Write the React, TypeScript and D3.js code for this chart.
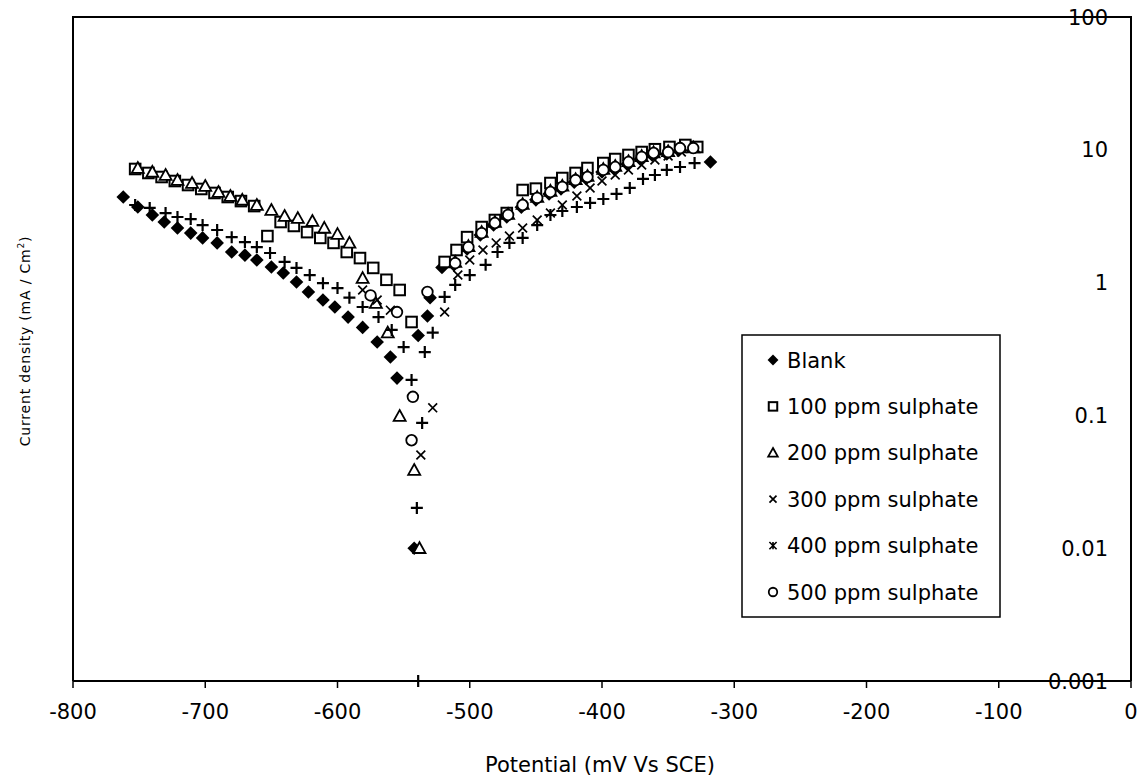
import React from 'react';
import * as d3 from 'd3';

const W = 1138;
const H = 780;

const xTicks = [-800, -700, -600, -500, -400, -300, -200, -100, 0];
const yTicks = [0.001, 0.01, 0.1, 1, 10, 100];
const yTickLabels = ['0.001', '0.01', '0.1', '1', '10', '100'];
const xTitle = 'Potential (mV Vs SCE)';
const seriesNames = ['Blank', '100 ppm sulphate', '200 ppm sulphate', '300 ppm sulphate', '400 ppm sulphate', '500 ppm sulphate'];
const markerKinds = ['diamond', 'square', 'triangle', 'x', 'star', 'circle'];

// [potential mV, current density mA/cm2]
const blank: [number, number][] = [
  [-762, 4.41], [-751, 3.71], [-740, 3.23], [-731, 2.86], [-721, 2.58], [-711, 2.36], [-702, 2.17],
  [-691, 1.99], [-680, 1.7], [-670, 1.61], [-661, 1.48], [-650, 1.31], [-641, 1.18], [-631, 1.01],
  [-622, 0.85], [-611, 0.74], [-602, 0.655], [-592, 0.55], [-581, 0.46], [-570, 0.357], [-560, 0.275],
  [-555, 0.191], [-542, 0.01],
  [-539, 0.4], [-532, 0.56], [-530, 0.77], [-521, 1.3], [-512, 1.36], [-502, 1.79], [-492, 2.28],
  [-482, 2.72], [-472, 3.12], [-461, 3.7], [-450, 4.2], [-440, 4.65], [-431, 5.08], [-421, 5.7],
  [-412, 6.05], [-400, 6.8], [-391, 7.2], [-381, 7.8], [-371, 8.5], [-362, 9.1], [-351, 9.3],
  [-342, 9.9], [-318, 8.09],
];

const ppm100: [number, number][] = [
  [-753, 7.17], [-743, 6.69], [-733, 6.24], [-723, 5.82], [-713, 5.43], [-703, 5.07], [-693, 4.73],
  [-683, 4.41], [-673, 4.11], [-663, 3.77], [-653, 2.24], [-643, 2.86], [-633, 2.67], [-623, 2.4],
  [-613, 2.17], [-603, 1.99], [-593, 1.7], [-583, 1.53], [-573, 1.29], [-563, 1.05], [-553, 0.88],
  [-544, 0.505],
  [-519, 1.43], [-510, 1.76], [-502, 2.2], [-491, 2.62], [-481, 2.96], [-472, 3.34], [-460, 4.98],
  [-450, 5.1], [-439, 5.62], [-430, 6.13], [-420, 6.69], [-411, 7.29], [-399, 7.95], [-390, 8.52],
  [-380, 9.14], [-370, 9.62], [-360, 10.1], [-349, 10.5], [-337, 10.87], [-328, 10.5],
];

const ppm200: [number, number][] = [
  [-751, 7.29], [-740, 6.81], [-730, 6.46], [-721, 5.92], [-710, 5.62], [-700, 5.34], [-690, 4.81],
  [-681, 4.49], [-672, 4.19], [-661, 3.84], [-650, 3.52], [-640, 3.17], [-630, 3.06], [-619, 2.91],
  [-610, 2.58], [-600, 2.32], [-591, 1.99], [-581, 1.08], [-571, 0.7], [-562, 0.42], [-553, 0.099],
  [-542, 0.0388], [-538, 0.01],
  [-511, 1.43], [-501, 1.88], [-491, 2.4], [-481, 2.86], [-471, 3.28], [-460, 3.9], [-449, 4.4],
  [-439, 4.9], [-430, 5.35], [-420, 6.0], [-411, 6.35], [-399, 7.15], [-390, 7.55], [-380, 8.2],
  [-370, 8.95], [-361, 9.55], [-350, 9.75], [-341, 10.4], [-331, 10.4],
];

const ppm300: [number, number][] = [
  [-581, 0.88], [-570, 0.74], [-560, 0.62], [-537, 0.0503], [-528, 0.114],
  [-519, 0.6], [-509, 1.14], [-500, 1.48], [-490, 1.76], [-480, 1.99], [-470, 2.24], [-460, 2.58],
  [-449, 2.96], [-439, 3.34], [-430, 3.84], [-419, 4.49], [-409, 5.16], [-400, 5.82], [-390, 6.46],
  [-380, 7.05], [-370, 7.68], [-360, 8.38], [-350, 8.98], [-340, 9.62],
];

const ppm400: [number, number][] = [
  [-753, 3.84], [-742, 3.65], [-730, 3.34], [-721, 3.12], [-711, 3.01], [-702, 2.71], [-691, 2.49],
  [-680, 2.2], [-670, 2.02], [-661, 1.85], [-651, 1.67], [-640, 1.43], [-631, 1.29], [-621, 1.14],
  [-611, 0.99], [-600, 0.91], [-591, 0.77], [-581, 0.655], [-569, 0.55], [-559, 0.44], [-550, 0.327],
  [-544, 0.185], [-536, 0.0877], [-540, 0.0201], [-539, 0.001],
  [-534, 0.3], [-528, 0.42], [-519, 0.78], [-511, 0.96], [-500, 1.14], [-488, 1.36], [-479, 1.7],
  [-470, 1.99], [-460, 2.17], [-449, 2.71], [-439, 3.23], [-430, 3.46], [-419, 3.71], [-409, 3.98],
  [-399, 4.26], [-389, 4.65], [-379, 5.16], [-369, 6.03], [-360, 6.46], [-351, 7.05], [-341, 7.42],
  [-330, 7.95],
];

const ppm500: [number, number][] = [
  [-575, 0.8], [-555, 0.6], [-543, 0.138], [-544, 0.065],
  [-532, 0.85], [-511, 1.4], [-501, 1.85], [-491, 2.36], [-481, 2.81], [-471, 3.23], [-460, 3.84],
  [-449, 4.34], [-439, 4.81], [-430, 5.25], [-420, 5.92], [-411, 6.24], [-399, 7.05], [-390, 7.42],
  [-380, 8.09], [-370, 8.83], [-361, 9.46], [-350, 9.62], [-341, 10.31], [-331, 10.31],
];

const allSeries = [blank, ppm100, ppm200, ppm300, ppm400, ppm500];

function Marker({ kind, cx, cy, s = 1 }: { kind: string; cx: number; cy: number; s?: number }) {
  const k = s;
  switch (kind) {
    case 'diamond': {
      const r = 6.8 * k;
      return <polygon points={`${cx},${cy - r} ${cx + r},${cy} ${cx},${cy + r} ${cx - r},${cy}`} fill="#000" />;
    }
    case 'square': {
      const h = 5.3 * k;
      return <rect x={cx - h} y={cy - h} width={2 * h} height={2 * h} fill="#fff" stroke="#000" strokeWidth={2} />;
    }
    case 'triangle': {
      const h = 6 * k;
      return (
        <polygon
          points={`${cx},${cy - h} ${cx + h},${cy + h * 0.8} ${cx - h},${cy + h * 0.8}`}
          fill="#fff"
          stroke="#000"
          strokeWidth={1.8}
        />
      );
    }
    case 'x': {
      const h = 4.4 * k;
      return (
        <path d={`M${cx - h},${cy - h}L${cx + h},${cy + h}M${cx - h},${cy + h}L${cx + h},${cy - h}`} stroke="#000" strokeWidth={1.7} />
      );
    }
    case 'star': {
      const h = 6 * k;
      return <path d={`M${cx - h},${cy}L${cx + h},${cy}M${cx},${cy - h}L${cx},${cy + h}`} stroke="#000" strokeWidth={2.2} />;
    }
    case 'starLegend': {
      const h = 4.5 * k;
      return (
        <path
          d={`M${cx - h},${cy - h}L${cx + h},${cy + h}M${cx - h},${cy + h}L${cx + h},${cy - h}M${cx},${cy - h}L${cx},${cy + h}`}
          stroke="#000"
          strokeWidth={1.6}
        />
      );
    }
    case 'circle':
    default:
      return <circle cx={cx} cy={cy} r={5.3 * k} fill="#fff" stroke="#000" strokeWidth={1.8} />;
  }
}

export default function App() {
  const x = d3.scaleLinear().domain([-800, 0]).range([73, 1131]);
  const y = d3.scaleLog().domain([0.001, 100]).range([681, 17]);
  const [x0, x1] = x.range();
  const [yb, yt] = y.range();

  const legend = { x: 742, y: 335, w: 258, h: 282 };
  const rowY = (i: number) => 360 + i * 46.4;

  return (
    <svg
      width={W}
      height={H}
      style={{ position: 'absolute', left: 0, top: 0, background: '#fff' }}
      fontFamily="'DejaVu Sans', sans-serif"
    >
      <rect x={0} y={0} width={W} height={H} fill="#fff" />
      {/* plot frame */}
      <path d={`M${x0},${yb}L${x0},${yt}L${x1},${yt}L${x1},${yb}`} fill="none" stroke="#000" strokeWidth={2} />
      {/* x axis */}
      <line x1={x0} x2={x1} y1={yb} y2={yb} stroke="#000" strokeWidth={2} />
      {xTicks.map((t) => (
        <g key={t}>
          <line x1={x(t)} x2={x(t)} y1={yb} y2={yb + 7} stroke="#000" strokeWidth={1.5} />
          <text x={x(t)} y={719} textAnchor="middle" fontSize={21} fill="#000">
            {t}
          </text>
        </g>
      ))}
      {/* y labels (axis crosses at 0 on the right) */}
      {yTicks.map((t, i) => (
        <text key={t} x={1108} y={y(t)} dy="0.36em" textAnchor="end" fontSize={21} fill="#000">
          {yTickLabels[i]}
        </text>
      ))}
      {/* data */}
      {allSeries.map((ser, si) => (
        <g key={si}>
          {ser.map(([v, c], pi) => (
            <Marker key={pi} kind={markerKinds[si]} cx={x(v)} cy={y(c)} />
          ))}
        </g>
      ))}
      {/* legend */}
      <rect x={legend.x} y={legend.y} width={legend.w} height={legend.h} fill="#fff" stroke="#000" strokeWidth={1.5} />
      {seriesNames.map((n, i) => (
        <g key={n}>
          <Marker kind={markerKinds[i] === 'star' ? 'starLegend' : markerKinds[i]} cx={773} cy={rowY(i)} s={0.8} />
          <text x={787} y={rowY(i)} dy="0.36em" fontSize={21} fill="#000">
            {n}
          </text>
        </g>
      ))}
      {/* axis titles */}
      <text x={600} y={772} textAnchor="middle" fontSize={21} fill="#000">
        {xTitle}
      </text>
      <text
        transform={`translate(30,341) rotate(-90)`}
        textAnchor="middle"
        fontSize={14}
        letterSpacing={0.8}
        fill="#000"
      >
        Current density (mA / Cm<tspan dy={-6} fontSize={9}>2</tspan>
        <tspan dy={6}>)</tspan>
      </text>
    </svg>
  );
}
